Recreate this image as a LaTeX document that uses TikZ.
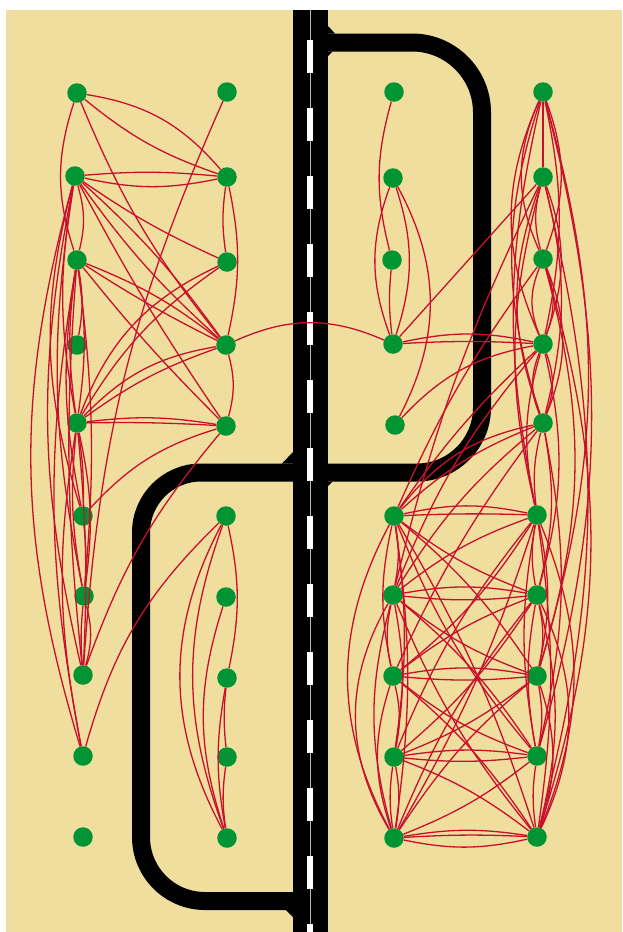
\documentclass[tikz,border=0pt]{standalone}
\definecolor{sand}{RGB}{239,222,157}
\definecolor{leaf}{RGB}{0,148,50}
\definecolor{wire}{RGB}{200,16,46}
\tikzset{
  dot/.style={circle,fill=leaf,inner sep=0pt,minimum size=19.5pt},
  link/.style={draw=wire,line width=1.3pt},
  lane/.style={draw=black,line width=18pt,line cap=butt},
}
\begin{document}
\begin{tikzpicture}[x=1pt,y=1pt]
\useasboundingbox (0,0) rectangle (622,-932);
\fill[white] (0,0) rectangle (622,-932);
\fill[sand] (6,-10) rectangle (622,-932);

% main road with centre line
\fill[black] (293,-10) rectangle (328,-932);
\begin{scope}
  \clip (293,-10) rectangle (328,-932);
  \draw[gray!55,line width=0.9pt] (310,-10) -- (310,-932);
  \foreach \k in {0,...,13}
    \fill[white] (307.4,-40-68*\k) rectangle (312.6,-73-68*\k);
\end{scope}

% side loops
\draw[lane] (322,-42.5) -- (412,-42.5) arc[start angle=90,end angle=0,radius=70]
  -- (482,-407.5) arc[start angle=0,end angle=-90,radius=65] -- (322,-472.5);
\draw[lane] (300,-472.5) -- (201,-472.5) arc[start angle=90,end angle=180,radius=60]
  -- (141,-837) arc[start angle=180,end angle=270,radius=64] -- (300,-901);

% junction chamfers
\fill[black] (328,-26) -- (335,-33.5) -- (328,-33.5) -- cycle;
\fill[black] (328,-51.5) -- (332.5,-51.5) -- (328,-56) -- cycle;
\fill[black] (328,-481.5) -- (332.5,-481.5) -- (328,-486) -- cycle;
\fill[black] (293,-452) -- (293,-463.5) -- (282,-463.5) -- cycle;
\fill[black] (293,-917) -- (293,-910) -- (286,-910) -- cycle;

% nodes
\foreach \n/\x/\y in {
  a1/77/93, a2/75/176, a3/77/260, a4/77/345, a5/77/423,
  a6/83/516, a7/84/596, a8/83/675, a9/83/756, a10/83/837,
  b1/227/92, b2/227/177, b3/227/262, b4/226/345, b5/226/426,
  b6/226/516, b7/226/597, b8/227/678, b9/227/757, b10/227/838,
  c1/394/92, c2/393/178, c3/392/260, c4/393/344, c5/395/425,
  c6/394/516, c7/393/595, c8/393/676, c9/394/757, c10/394/838,
  d1/543/92, d2/543/177, d3/543/259, d4/543/344, d5/543/423,
  d6/537/515, d7/537/595, d8/537/676, d9/537/756, d10/537/837}
  \node[dot] (\n) at (\x,-\y) {};

% links on the left side (signed bend: positive bends left)
\foreach \s/\t/\b in {
  a1/b2/20, a1/b2/-10, a1/b4/-8, a1/a3/-18, b1/a8/-10,
  a2/b2/5, a2/b2/-12, a2/b3/-5, a2/b4/6, a2/b4/-6, a2/b5/-3,
  a2/a3/15, a2/a5/-10, a2/a6/-16, a2/a7/-10, a2/a8/-12, a2/a9/-16,
  b2/b3/-8, b2/b4/12, b3/a5/-22, a5/b3/12,
  a3/b4/8, a3/b4/-3, a3/b5/-3, a3/a4/10, a3/a5/8, a3/a5/-8,
  a3/a6/-10, a3/a7/6, a3/a8/-5, a3/a9/-10,
  a5/b4/18, a5/b4/8, a5/b5/8, a5/b5/2, b4/c4/24, b4/b5/15,
  b5/a6/-15, b5/a8/-10,
  a5/a6/5, a5/a7/-8, a5/a7/10, a5/a8/4, a5/a9/-10,
  a6/a7/5, a7/a8/15, a7/a8/-5,
  b6/a9/-15, b6/b8/12, b6/b10/-28, b6/b10/-20, b7/b10/-18,
  b8/b9/-6, b8/b10/-10, b9/b10/-8}
  \draw[link] (\s) to[bend left=\b] (\t);

% links on the right side, upper part
\foreach \s/\t/\b in {
  c1/c3/-15, c2/c4/-20, c2/c4/18, c2/c5/28, c3/c4/-6,
  c4/d2/0, c4/d4/12, c4/d4/3, c5/d4/18,
  d1/d2/0, d1/d3/-24, d1/d3/20, d1/d4/-24, d1/d4/12, d1/d5/-18,
  d1/d8/16, d1/d9/15, d1/d6/-12,
  d2/d3/-15, d2/d4/20, d2/d5/-20, d2/d5/14, d2/c7/-6, d2/d6/-14, d2/d10/14,
  d3/d4/-22, d3/d4/20, d3/d5/22, d3/d8/16, d3/d10/17, d3/c6/-6,
  d4/d5/-22, d4/d5/20, d4/c6/-6, d4/d6/-14, d4/d7/14, d4/c7/-9,
  d5/c6/-10, d5/c6/-20, d5/c7/-9, d5/c8/-6, d5/d6/-10, d5/d7/12, d5/d9/12}
  \draw[link] (\s) to[bend left=\b] (\t);

% links on the right side, lower block
\foreach \s/\t/\b in {
  c6/d6/12, c6/d6/2, c6/d7/-8, c6/d8/8, c6/d9/-9, c6/d10/6,
  c7/d6/9, c7/d7/10, c7/d7/-6, c7/d8/-9, c7/d9/8, c7/d10/-8,
  c8/d6/-9, c8/d7/8, c8/d8/10, c8/d8/-5, c8/d9/-9, c8/d10/8,
  c9/d6/8, c9/d7/-8, c9/d8/-8, c9/d9/8, c9/d9/-6, c9/d10/8,
  c10/d6/-6, c10/d7/8, c10/d8/8, c10/d9/-8, c10/d10/9, c10/d10/3, c10/d10/-12,
  c6/c7/10, c6/c8/-12, c6/c9/8, c6/c10/-28, c6/c10/8,
  c7/c8/-12, c7/c9/10, c7/c10/-30, c7/c10/-15,
  c8/c9/12, c8/c10/-18, c9/c10/10, c9/c10/-8,
  d6/d7/-10, d6/d8/12, d6/d9/-10, d6/d10/22, d6/d10/8,
  d7/d8/12, d7/d9/-10, d7/d10/25, d7/d10/14,
  d8/d9/10, d8/d10/18, d9/d10/-8}
  \draw[link] (\s) to[bend left=\b] (\t);
\end{tikzpicture}
\end{document}
